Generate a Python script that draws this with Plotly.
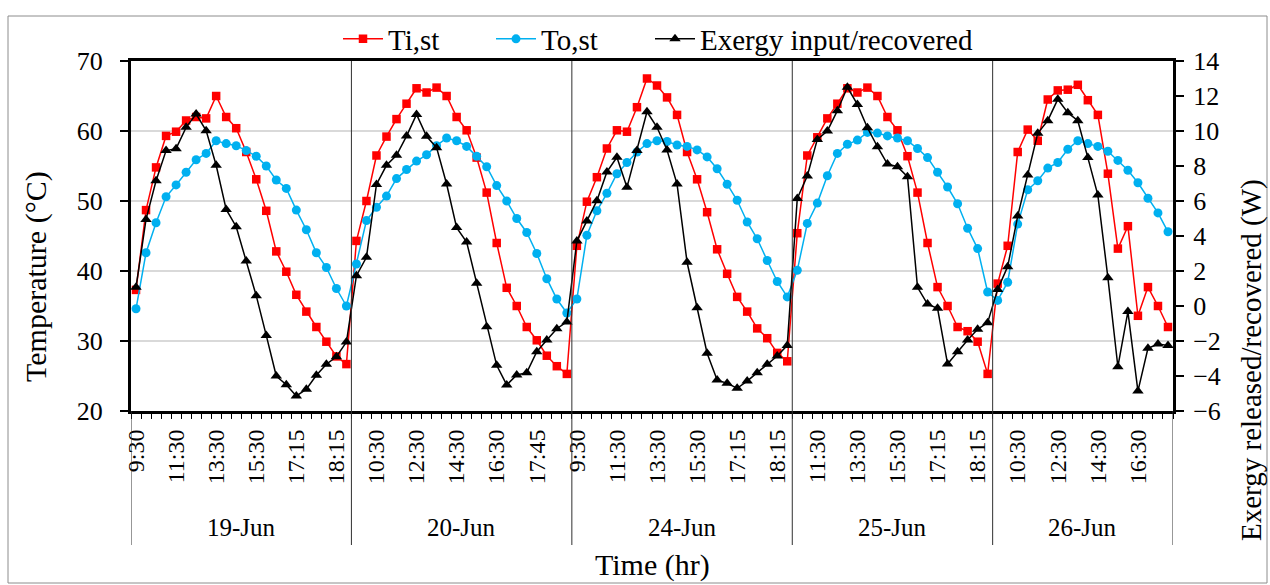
import plotly.graph_objects as go

# ---------------- data ----------------
days = ["19-Jun", "20-Jun", "24-Jun", "25-Jun", "26-Jun"]

times_19 = ["9:30", "10:00", "10:30", "11:00", "11:30", "12:00", "12:30", "13:00", "13:30", "14:00", "14:30",
            "15:00", "15:30", "16:00", "16:30", "17:00", "17:15", "17:30", "17:45", "18:00", "18:15", "18:30"]
times_20 = ["9:30", "10:00", "10:30", "11:00", "11:30", "12:00", "12:30", "13:00", "13:30", "14:00", "14:30",
            "15:00", "15:30", "16:00", "16:30", "17:00", "17:15", "17:30", "17:45", "18:00", "18:15", "18:30"]
times_24 = ["9:30", "10:00", "10:30", "11:00", "11:30", "12:00", "12:30", "13:00", "13:30", "14:00", "14:30",
            "15:00", "15:30", "16:00", "16:30", "17:00", "17:15", "17:30", "17:45", "18:00", "18:15", "18:30"]
times_25 = ["10:30", "11:00", "11:30", "12:00", "12:30", "13:00", "13:30", "14:00", "14:30", "15:00",
            "15:30", "16:00", "16:30", "17:00", "17:15", "17:30", "17:45", "18:00", "18:15", "18:30"]
times_26 = ["9:30", "10:00", "10:30", "11:00", "11:30", "12:00", "12:30", "13:00", "13:30", "14:00",
            "14:30", "15:00", "15:30", "16:00", "16:30", "17:00", "17:30", "18:00"]

ti_19 = [37.3, 48.7, 54.8, 59.3, 59.9, 61.5, 62.0, 61.8, 65.0, 62.0, 60.4, 57.0, 53.1, 48.6, 42.8, 39.9,
         36.6, 34.2, 32.0, 29.9, 27.8, 26.7]
to_19 = [34.6, 42.6, 46.9, 50.6, 52.3, 54.1, 55.9, 56.8, 58.6, 58.2, 57.9, 57.2, 56.4, 55.0, 53.0, 51.8,
         48.7, 45.9, 42.6, 40.5, 37.5, 35.0]
ex_19 = [1.07, 4.95, 7.16, 8.88, 8.99, 10.21, 10.97, 10.02, 8.04, 5.52, 4.53, 2.57, 0.59, -1.68, -4.0, -4.5,
         -5.14, -4.76, -3.96, -3.33, -2.9, -2.06]

ti_20 = [44.3, 50.0, 56.5, 59.2, 61.7, 63.9, 66.1, 65.5, 66.2, 65.0, 62.0, 60.1, 56.2, 51.2, 44.0, 37.6,
         35.0, 32.0, 30.1, 27.9, 26.4, 25.3]
to_20 = [41.0, 47.2, 49.1, 50.7, 53.2, 54.5, 55.7, 56.6, 57.9, 59.0, 58.6, 57.8, 56.4, 54.9, 52.2, 50.0,
         47.5, 45.5, 42.5, 38.9, 36.0, 34.0]
ex_20 = [1.73, 2.78, 6.95, 8.04, 8.61, 9.71, 10.95, 9.7, 9.05, 6.97, 4.48, 3.66, 1.3, -1.18, -3.39, -4.51,
         -3.94, -3.81, -2.61, -1.94, -1.3, -0.91]

ti_24 = [43.6, 49.9, 53.4, 57.5, 60.1, 59.9, 63.4, 67.5, 66.5, 64.8, 62.3, 57.0, 53.1, 48.4, 43.1, 39.6,
         36.3, 34.2, 31.8, 30.4, 28.3, 27.1]
to_24 = [36.0, 45.1, 48.6, 51.1, 53.9, 55.5, 57.0, 58.2, 58.6, 58.5, 58.0, 57.8, 57.3, 56.3, 54.6, 52.4,
         50.1, 47.0, 44.6, 41.5, 38.5, 36.3]
ex_24 = [3.71, 4.86, 6.02, 7.66, 8.5, 6.78, 8.88, 11.1, 10.21, 8.91, 6.97, 2.5, -0.1, -2.7, -4.23, -4.42,
         -4.7, -4.29, -3.81, -3.33, -2.86, -2.25]

ti_25 = [45.4, 56.5, 59.1, 61.8, 63.9, 66.1, 65.5, 66.2, 65.0, 62.0, 60.1, 56.4, 51.2, 44.0, 37.7, 35.0,
         32.0, 31.4, 29.9, 25.3]
to_25 = [40.1, 46.8, 49.7, 53.6, 56.8, 58.1, 58.7, 59.8, 59.7, 59.3, 59.0, 58.6, 57.5, 56.2, 54.1, 52.0,
         49.6, 46.1, 43.2, 37.0]
ex_25 = [6.15, 7.43, 9.52, 10.0, 11.16, 12.5, 11.52, 10.19, 9.1, 8.11, 7.96, 7.39, 1.07, 0.11, -0.13, -3.31,
         -2.61, -1.94, -1.33, -0.95]

ti_26 = [38.2, 43.6, 57.0, 60.2, 58.6, 64.5, 65.8, 65.9, 66.6, 64.4, 62.3, 53.9, 43.2, 46.4, 33.6, 37.7,
         35.0, 32.0]
to_26 = [35.8, 38.4, 46.7, 51.6, 52.9, 54.7, 55.5, 57.4, 58.6, 58.2, 57.8, 57.1, 55.8, 54.4, 52.6, 50.4,
         48.3, 45.6]
ex_26 = [0.95, 2.25, 5.14, 7.49, 9.87, 10.59, 11.81, 11.05, 10.59, 8.48, 6.34, 1.62, -3.47, -0.32, -4.86,
         -2.42, -2.17, -2.25]

times = [times_19, times_20, times_24, times_25, times_26]
ti = ti_19 + ti_20 + ti_24 + ti_25 + ti_26
to = to_19 + to_20 + to_24 + to_25 + to_26
ex = ex_19 + ex_20 + ex_24 + ex_25 + ex_26
label_every = 4

# ---------------- layout helpers ----------------
W, H = 1270, 585
L, R, T, B = 131, 97, 61, 174
PW, PH = W - L - R, H - T - B


def px_x(p):
    return (p - L) / PW


def px_y(p):
    return (H - B - p) / PH


all_times = [t for day in times for t in day]
n = len(all_times)
x = list(range(n))
tickvals = [i for i in x if i % label_every == 0]
ticktext = [all_times[i] for i in tickvals]

starts = []
s = 0
for day in times:
    starts.append(s)
    s += len(day)
bounds = starts + [n]

FONT = "Liberation Serif"

fig = go.Figure()
fig.add_trace(go.Scatter(x=x, y=ti, name="Ti,st", mode="lines+markers", legend="legend",
                         line=dict(color="#FF0000", width=1.5),
                         marker=dict(symbol="square", size=8.5, color="#FF0000")))
fig.add_trace(go.Scatter(x=x, y=to, name="To,st", mode="lines+markers", legend="legend2",
                         line=dict(color="#00B0F0", width=1.5),
                         marker=dict(symbol="circle", size=9, color="#00B0F0")))
fig.add_trace(go.Scatter(x=x, y=ex, name="Exergy input/recovered", mode="lines+markers", yaxis="y2",
                         legend="legend3",
                         line=dict(color="#000000", width=1.5),
                         marker=dict(symbol="triangle-up", size=10, color="#000000")))

shapes = []
# day separators inside plot
for b in bounds[1:-1]:
    shapes.append(dict(type="line", xref="x", yref="paper", x0=b - 0.5, x1=b - 0.5, y0=0, y1=1,
                       line=dict(color="#303030", width=1)))
# group dividers in the label area
for b in bounds:
    shapes.append(dict(type="line", xref="x", yref="paper", x0=b - 0.5, x1=b - 0.5, y0=px_y(545), y1=0,
                       line=dict(color="#303030", width=1)))
# outer chart frame
shapes.append(dict(type="rect", xref="paper", yref="paper", x0=px_x(8), x1=px_x(1267), y0=px_y(583),
                   y1=px_y(16), line=dict(color="#8c8c8c", width=1)))

annotations = []
for d, a, b in zip(days, bounds[:-1], bounds[1:]):
    annotations.append(dict(text=d, xref="x", yref="paper", x=(a + b - 1) / 2, y=px_y(527),
                            showarrow=False, font=dict(family=FONT, size=25, color="black"),
                            xanchor="center", yanchor="middle"))
annotations.append(dict(text="Time (hr)", xref="paper", yref="paper", x=0.5, y=px_y(565), showarrow=False,
                        font=dict(family=FONT, size=30, color="black"), xanchor="center", yanchor="middle"))
annotations.append(dict(text="Temperature (°C)", xref="paper", yref="paper", x=px_x(36), y=px_y(277),
                        showarrow=False, textangle=-90,
                        font=dict(family=FONT, size=30, color="black"), xanchor="center", yanchor="middle"))
annotations.append(dict(text="Exergy released/recovered (W)", xref="paper", yref="paper", x=px_x(1251),
                        y=px_y(360), showarrow=False, textangle=-90,
                        font=dict(family=FONT, size=29, color="black"), xanchor="center", yanchor="middle"))

leg_common = dict(orientation="h", yanchor="middle", xanchor="left", y=px_y(39),
                  font=dict(family=FONT, size=29, color="black"), bgcolor="rgba(0,0,0,0)", itemwidth=40)

fig.update_layout(
    width=W, height=H,
    margin=dict(l=L, r=R, t=T, b=B),
    paper_bgcolor="white", plot_bgcolor="white",
    font=dict(family=FONT, color="black"),
    showlegend=True,
    legend=dict(x=px_x(338), **leg_common),
    legend2=dict(x=px_x(491), **leg_common),
    legend3=dict(x=px_x(650), **leg_common),
    xaxis=dict(range=[-0.5, n - 0.5], tickmode="array", tickvals=tickvals, ticktext=ticktext,
               tickangle=-90, ticks="", showgrid=False, zeroline=False,
               showline=True, linecolor="black", linewidth=3, mirror=True,
               tickfont=dict(family=FONT, size=24, color="black"), ticklabelstandoff=6,
               minor=dict(tickmode="array", tickvals=[i - 0.5 for i in range(n + 1)], ticks="outside",
                          ticklen=5, tickwidth=1, tickcolor="black", showgrid=False)),
    yaxis=dict(range=[20, 70], dtick=10, tick0=20, showgrid=True, gridcolor="#d9d9d9", gridwidth=1.5,
               zeroline=False, showline=True, linecolor="black", linewidth=3,
               ticks="outside", ticklen=8, tickwidth=1.5, tickcolor="black",
               tickfont=dict(family=FONT, size=26, color="black"), ticklabelstandoff=12),
    yaxis2=dict(range=[-6, 14], dtick=2, tick0=-6, overlaying="y", side="right", showgrid=False,
                zeroline=False, showline=True, linecolor="black", linewidth=3,
                ticks="outside", ticklen=8, tickwidth=1.5, tickcolor="black",
                tickfont=dict(family=FONT, size=26, color="black"), ticklabelstandoff=4),
    shapes=shapes,
    annotations=annotations,
)

fig.write_html("out.html")
